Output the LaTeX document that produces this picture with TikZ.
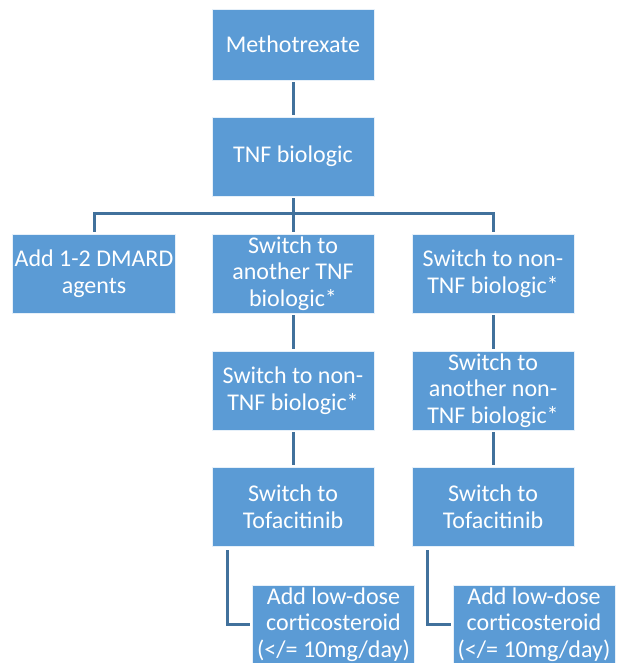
\documentclass[tikz,border=0pt]{standalone}
\usepackage{fontspec}
\setmainfont{Carlito}
\usepackage{xcolor}
\definecolor{boxblue}{RGB}{91, 155, 213}
\definecolor{lineblue}{RGB}{65, 113, 156}

\tikzset{
    stepbox/.style={draw=white!85!boxblue, line width=0.8pt, fill=boxblue, text=white,
        minimum width=162pt, minimum height=79pt, align=center, inner sep=2pt,
        font=\fontsize{24}{26.5}\selectfont},
    link/.style={draw=lineblue, line width=3pt, shorten >=2pt, shorten <=2pt}
}

\begin{document}
\begin{tikzpicture}[x=1pt, y=-1pt]
    \useasboundingbox (0,0) rectangle (624,663);
    \clip (0,0) rectangle (624,663);

    % boxes
    \node[stepbox, minimum height=71pt] (mtx) at (293,44.5) {Methotrexate};
    \node[stepbox] (tnf) at (293,156.5) {TNF biologic};
    \node[stepbox] (dmard) at (94,273.5) {Add 1-2 DMARD\\agents};
    \node[stepbox] (othertnf) at (293,273.5) {Switch to\\another TNF\\biologic*};
    \node[stepbox] (nontnf) at (493,273.5) {Switch to non-\\TNF biologic*};
    \node[stepbox] (nontnfb) at (293,390.5) {Switch to non-\\TNF biologic*};
    \node[stepbox] (othernon) at (493,390.5) {Switch to\\another non-\\TNF biologic*};
    \node[stepbox] (tofaleft) at (293,507) {Switch to\\Tofacitinib};
    \node[stepbox] (tofaright) at (493,507) {Switch to\\Tofacitinib};
    \node[stepbox] (steroidleft) at (333.5,624.5) {Add low-dose\\corticosteroid\\(</= 10mg/day)};
    \node[stepbox] (steroidright) at (534,624.5) {Add low-dose\\corticosteroid\\(</= 10mg/day)};

    % connectors
    \coordinate (bus) at (293,213);
    \draw[link] (mtx) -- (tnf);
    \draw[link, shorten >=0pt] (tnf) -- (bus);
    \draw[link, shorten <=0pt] (bus) -| (dmard);
    \draw[link, shorten <=0pt] (bus) -- (othertnf);
    \draw[link, shorten <=0pt] (bus) -| (nontnf);
    \draw[link] (othertnf) -- (nontnfb);
    \draw[link] (nontnf) -- (othernon);
    \draw[link] (nontnfb) -- (tofaleft);
    \draw[link] (othernon) -- (tofaright);
    \coordinate (elbowleft) at (227,548);
    \coordinate (elbowright) at (427,548);
    \draw[link] (elbowleft) |- (steroidleft);
    \draw[link] (elbowright) |- (steroidright);
\end{tikzpicture}
\end{document}
